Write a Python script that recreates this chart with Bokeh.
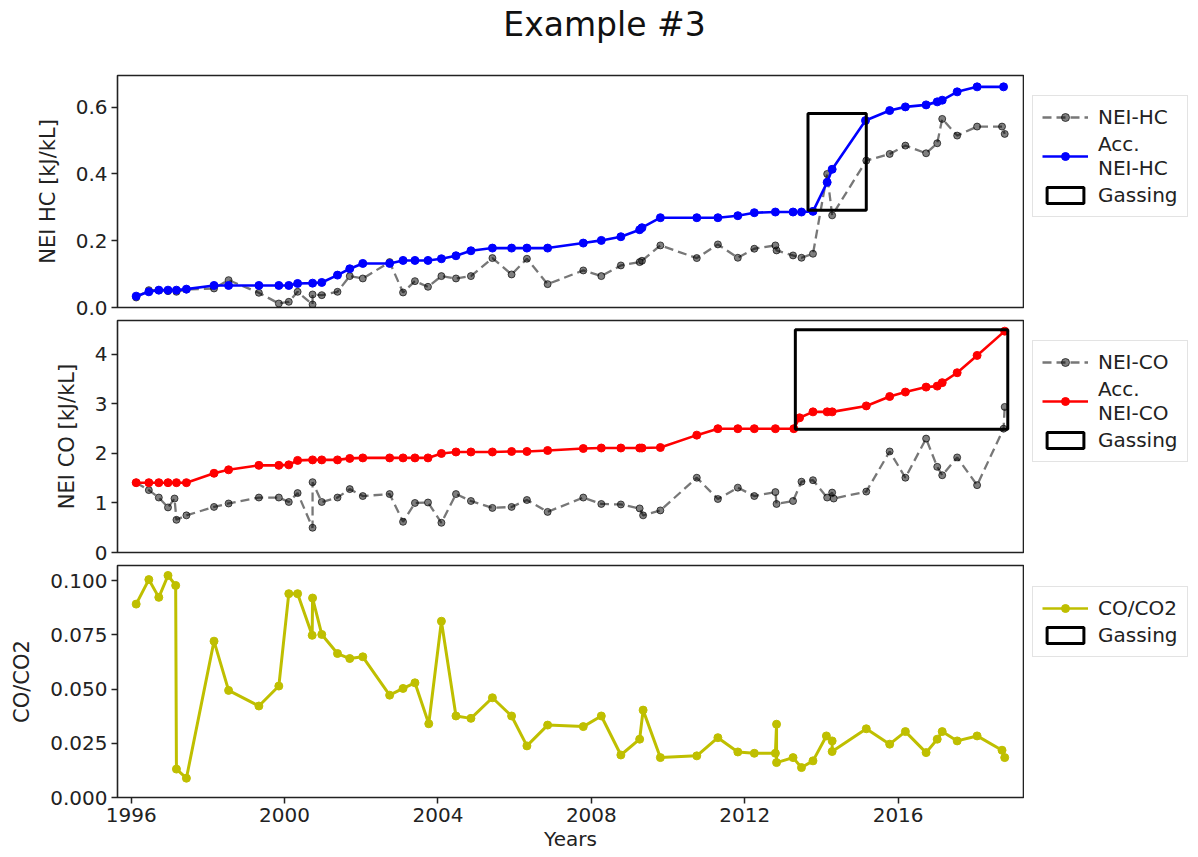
from bokeh.plotting import figure
from bokeh.models import Range1d, FixedTicker, PrintfTickFormatter, Legend, LegendItem, Label
from bokeh.layouts import column, row
from bokeh.embed import file_html
from bokeh.resources import INLINE

# ---------------- data ----------------
title_text = "Example #3"
x_label = "Years"
year_ticks = [1996, 2000, 2004, 2008, 2012, 2016]
hc_ticks = [0.0, 0.2, 0.4, 0.6]
co_ticks = [0, 1, 2, 3, 4]
ratio_ticks = [0.0, 0.025, 0.05, 0.075, 0.1]

# NEI-HC (raw, dashed gray)
hc_years = [1996.13, 1996.46, 1996.72, 1996.96, 1997.18, 1997.44, 1998.16, 1998.54, 1999.33, 1999.85,
            2000.11, 2000.34, 2000.73, 2000.73, 2000.97, 2001.38, 2001.70, 2002.04, 2002.74, 2003.09,
            2003.40, 2003.74, 2004.09, 2004.47, 2004.86, 2005.42, 2005.92, 2006.32, 2006.86, 2007.79,
            2008.26, 2008.77, 2009.26, 2009.32, 2009.80, 2010.75, 2011.30, 2011.82, 2012.25, 2012.80,
            2012.83, 2013.26, 2013.48, 2013.78, 2014.15, 2014.28, 2015.17, 2015.78, 2016.19, 2016.73,
            2017.02, 2017.15, 2017.54, 2018.06, 2018.71, 2018.78]
hc_values = [0.030, 0.052, 0.052, 0.049, 0.047, 0.054, 0.057, 0.082, 0.044, 0.012,
             0.017, 0.047, 0.009, 0.039, 0.037, 0.047, 0.094, 0.087, 0.136, 0.045,
             0.079, 0.062, 0.094, 0.087, 0.094, 0.148, 0.099, 0.146, 0.070, 0.111,
             0.094, 0.126, 0.136, 0.140, 0.186, 0.148, 0.189, 0.149, 0.176, 0.186,
             0.171, 0.156, 0.149, 0.161, 0.400, 0.276, 0.440, 0.460, 0.485, 0.462,
             0.492, 0.565, 0.515, 0.542, 0.542, 0.520]

# Acc. NEI-HC (blue)
acc_hc_years = [1996.13, 1996.46, 1996.72, 1996.96, 1997.18, 1997.44, 1998.16, 1998.54, 1999.33, 1999.85,
                2000.11, 2000.34, 2000.73, 2000.97, 2001.38, 2001.70, 2002.04, 2002.74, 2003.09, 2003.40,
                2003.74, 2004.09, 2004.47, 2004.86, 2005.42, 2005.92, 2006.32, 2006.86, 2007.79, 2008.26,
                2008.77, 2009.26, 2009.32, 2009.80, 2010.75, 2011.30, 2011.82, 2012.25, 2012.80, 2013.26,
                2013.48, 2013.78, 2014.15, 2014.28, 2015.15, 2015.78, 2016.19, 2016.73, 2017.02, 2017.15,
                2017.54, 2018.06, 2018.75]
acc_hc_values = [0.034, 0.047, 0.052, 0.052, 0.052, 0.055, 0.066, 0.066, 0.066, 0.066,
                 0.066, 0.072, 0.073, 0.075, 0.097, 0.116, 0.132, 0.132, 0.141, 0.141,
                 0.141, 0.146, 0.155, 0.170, 0.178, 0.178, 0.178, 0.178, 0.193, 0.201,
                 0.212, 0.233, 0.239, 0.269, 0.269, 0.269, 0.275, 0.284, 0.286, 0.286,
                 0.286, 0.288, 0.375, 0.414, 0.560, 0.590, 0.601, 0.607, 0.616, 0.621,
                 0.646, 0.661, 0.661]

# NEI-CO (raw, dashed gray)
co_years = [1996.13, 1996.46, 1996.72, 1996.96, 1997.13, 1997.18, 1997.44, 1998.16, 1998.54, 1999.33,
            1999.85, 2000.11, 2000.34, 2000.73, 2000.73, 2000.97, 2001.38, 2001.70, 2002.04, 2002.74,
            2003.09, 2003.40, 2003.74, 2004.09, 2004.47, 2004.86, 2005.42, 2005.92, 2006.32, 2006.86,
            2007.79, 2008.26, 2008.77, 2009.26, 2009.35, 2009.80, 2010.75, 2011.30, 2011.82, 2012.25,
            2012.80, 2012.83, 2013.26, 2013.48, 2013.78, 2014.15, 2014.28, 2014.32, 2015.17, 2015.78,
            2016.19, 2016.73, 2017.02, 2017.15, 2017.54, 2018.06, 2018.75, 2018.78]
co_values = [1.41, 1.26, 1.11, 0.91, 1.09, 0.66, 0.75, 0.92, 0.99, 1.11,
             1.11, 1.02, 1.20, 0.50, 1.42, 1.02, 1.11, 1.28, 1.14, 1.18,
             0.62, 1.00, 1.01, 0.60, 1.18, 1.04, 0.90, 0.92, 1.06, 0.82,
             1.11, 0.98, 0.97, 0.89, 0.75, 0.85, 1.51, 1.08, 1.31, 1.14,
             1.22, 0.98, 1.04, 1.43, 1.46, 1.11, 1.21, 1.09, 1.23, 2.04,
             1.51, 2.30, 1.73, 1.56, 1.92, 1.36, 2.50, 2.94]

# Acc. NEI-CO (red)
acc_co_years = [1996.13, 1996.46, 1996.72, 1996.96, 1997.18, 1997.44, 1998.16, 1998.54, 1999.33, 1999.85,
                2000.11, 2000.34, 2000.73, 2000.97, 2001.38, 2001.70, 2002.04, 2002.74, 2003.09, 2003.40,
                2003.74, 2004.09, 2004.47, 2004.86, 2005.42, 2005.92, 2006.32, 2006.86, 2007.79, 2008.26,
                2008.77, 2009.26, 2009.32, 2009.80, 2010.75, 2011.30, 2011.82, 2012.25, 2012.80, 2013.28,
                2013.43, 2013.78, 2014.15, 2014.28, 2015.17, 2015.78, 2016.19, 2016.73, 2017.02, 2017.15,
                2017.54, 2018.06, 2018.78]
acc_co_values = [1.41, 1.41, 1.41, 1.41, 1.41, 1.41, 1.60, 1.67, 1.76, 1.76,
                 1.77, 1.86, 1.87, 1.87, 1.87, 1.90, 1.91, 1.91, 1.91, 1.91,
                 1.91, 2.00, 2.03, 2.03, 2.03, 2.04, 2.04, 2.06, 2.10, 2.11,
                 2.11, 2.11, 2.11, 2.12, 2.37, 2.50, 2.50, 2.50, 2.50, 2.50,
                 2.72, 2.84, 2.84, 2.84, 2.96, 3.15, 3.24, 3.34, 3.36, 3.43,
                 3.63, 3.98, 4.47]

# CO/CO2 (yellow)
ratio_years = [1996.13, 1996.46, 1996.72, 1996.96, 1997.16, 1997.18, 1997.44, 1998.16, 1998.54, 1999.33,
               1999.85, 2000.11, 2000.34, 2000.72, 2000.73, 2000.97, 2001.38, 2001.70, 2002.04, 2002.74,
               2003.09, 2003.40, 2003.76, 2004.09, 2004.47, 2004.86, 2005.42, 2005.92, 2006.32, 2006.86,
               2007.79, 2008.26, 2008.77, 2009.26, 2009.35, 2009.80, 2010.75, 2011.30, 2011.82, 2012.25,
               2012.80, 2012.83, 2012.83, 2013.26, 2013.48, 2013.78, 2014.13, 2014.28, 2014.28, 2015.17,
               2015.78, 2016.19, 2016.73, 2017.02, 2017.15, 2017.54, 2018.06, 2018.71, 2018.78]
ratio_values = [0.0892, 0.1005, 0.0923, 0.1024, 0.0978, 0.0131, 0.0089, 0.0721, 0.0494, 0.0422,
                0.0514, 0.0940, 0.0940, 0.0748, 0.0920, 0.0752, 0.0664, 0.0641, 0.0649, 0.0472,
                0.0503, 0.0529, 0.0340, 0.0813, 0.0376, 0.0365, 0.0460, 0.0376, 0.0238, 0.0334,
                0.0327, 0.0376, 0.0196, 0.0269, 0.0403, 0.0184, 0.0192, 0.0276, 0.0210, 0.0204,
                0.0204, 0.0338, 0.0161, 0.0184, 0.0138, 0.0169, 0.0284, 0.0261, 0.0212, 0.0317,
                0.0246, 0.0304, 0.0207, 0.0269, 0.0304, 0.0261, 0.0284, 0.0218, 0.0184]

# Gassing boxes (start, end, low, high)
gas_hc = dict(left=[2013.65], right=[2015.17], bottom=[0.291], top=[0.581])
gas_co = dict(left=[2013.32], right=[2018.86], bottom=[2.49], top=[4.50])

# ---------------- styling ----------------
FONT = "DejaVu Sans"
TXT = "#222222"
NAN = float("nan")
X_START, X_END = 1995.643, 2019.27
LEFT = 117
FRAME_W = 906
MAIN_W = LEFT + FRAME_W + 1
LEG_W = 172
FRAME_H = 232
TITLE_H = 58
LEG_DX = 8
LEG_DY = 22

GRAY = dict(line_color="#777777", line_width=2.3, line_dash="9 5")
GRAY_DOT = dict(size=7, fill_color="black", fill_alpha=0.5, line_color="black", line_alpha=0.65)
BOX = dict(fill_alpha=0, line_color="black", line_width=3)


def make_fig(top, bottom, y_end, yticks, yfmt, ylabel, show_x):
    p = figure(width=MAIN_W, height=top + FRAME_H + bottom, x_range=Range1d(X_START, X_END),
               y_range=Range1d(0, y_end), output_backend="svg", toolbar_location=None,
               min_border_left=LEFT, min_border_right=1,
               min_border_top=top, min_border_bottom=bottom)
    p.grid.visible = False
    p.outline_line_color = "#222222"
    p.outline_line_width = 1.6
    p.outline_line_alpha = 1.0
    p.background_fill_color = "white"
    p.border_fill_color = "white"
    for ax in (p.yaxis[0], p.xaxis[0]):
        ax.axis_line_color = None
        ax.major_tick_in = 0
        ax.major_tick_out = 6
        ax.major_tick_line_color = "#222222"
        ax.major_tick_line_width = 1.5
        ax.minor_tick_line_color = None
        ax.major_label_text_font = FONT
        ax.major_label_text_font_size = "20px"
        ax.major_label_text_color = TXT
        ax.axis_label_text_font = FONT
        ax.axis_label_text_font_style = "normal"
        ax.axis_label_text_color = TXT
    ya = p.yaxis[0]
    ya.ticker = FixedTicker(ticks=yticks)
    ya.formatter = PrintfTickFormatter(format=yfmt)
    ya.axis_label = ylabel
    ya.axis_label_text_font_size = "21px"
    ya.axis_label_standoff = 13
    ya.major_label_standoff = 4
    xa = p.xaxis[0]
    if show_x:
        xa.ticker = FixedTicker(ticks=year_ticks)
        xa.formatter = PrintfTickFormatter(format="%d")
        xa.axis_label = x_label
        xa.axis_label_text_font_size = "20px"
        xa.axis_label_standoff = 2
        xa.major_label_standoff = 4
    else:
        xa.visible = False
    return p


def legend_fig(top, bottom, entries, leg_h):
    """Side figure holding the legend (proxy renderers carry no data points)."""
    lf = figure(width=LEG_W, height=top + FRAME_H + bottom, x_range=Range1d(0, 1), y_range=Range1d(0, 1),
                output_backend="svg", toolbar_location=None,
                min_border_left=0, min_border_top=top, min_border_right=0, min_border_bottom=bottom)
    lf.axis.visible = False
    lf.grid.visible = False
    lf.outline_line_color = None
    lf.background_fill_color = "white"
    lf.border_fill_color = "white"
    items = []
    for label, kind, color in entries:
        if kind == "raw":
            rs = [lf.line([NAN], [NAN], **GRAY), lf.scatter([NAN], [NAN], **GRAY_DOT)]
        elif kind == "acc":
            rs = [lf.line([NAN], [NAN], line_color=color, line_width=2.6),
                  lf.scatter([NAN], [NAN], size=8, fill_color=color, line_color=color)]
        else:
            rs = [lf.quad(left=[NAN], right=[NAN], bottom=[NAN], top=[NAN], **BOX)]
        items.append(LegendItem(label=label, renderers=rs))
    lg = Legend(items=items, location=(LEG_DX, FRAME_H - LEG_DY - leg_h))
    lg.label_text_font = FONT
    lg.label_text_font_size = "20px"
    lg.label_text_color = TXT
    lg.glyph_width = 46
    lg.glyph_height = 20
    lg.label_standoff = 10
    lg.padding = 9
    lg.spacing = 3
    lg.margin = 0
    lg.border_line_color = "#c8c8c8"
    lg.border_line_width = 1.5
    lg.background_fill_color = "white"
    lg.background_fill_alpha = 1.0
    lf.add_layout(lg)
    return lf


def raw_series(p, xs, ys):
    p.line(xs, ys, **GRAY)
    p.scatter(xs, ys, **GRAY_DOT)


def acc_series(p, xs, ys, color, lw=2.6, size=8):
    p.line(xs, ys, line_color=color, line_width=lw)
    p.scatter(xs, ys, size=size, fill_color=color, line_color=color)


def gas_box(p, d):
    p.quad(left=d["left"], right=d["right"], bottom=d["bottom"], top=d["top"], **BOX)


# ---- title strip ----
pt = figure(width=MAIN_W + LEG_W, height=TITLE_H, x_range=Range1d(0, 1), y_range=Range1d(0, 1),
            output_backend="svg", toolbar_location=None,
            min_border_left=LEFT, min_border_right=1, min_border_top=0, min_border_bottom=0)
pt.axis.visible = False
pt.grid.visible = False
pt.outline_line_color = None
pt.add_layout(Label(x=604 - LEFT, y=34, x_units="screen", y_units="screen", text=title_text,
                    text_align="center", text_baseline="alphabetic", text_font=FONT,
                    text_font_size="33px", text_color="#111111"))

# ---- top panel ----
T1, B1 = 75 - TITLE_H, 12
p1 = make_fig(T1, B1, 0.695, hc_ticks, "%.1f", "NEI HC [kJ/kL]", False)
raw_series(p1, hc_years, hc_values)
acc_series(p1, acc_hc_years, acc_hc_values, "#0000ff")
gas_box(p1, gas_hc)
l1 = legend_fig(T1, B1, [("NEI-HC", "raw", None), ("Acc.\nNEI-HC", "acc", "#0000ff"),
                         ("Gassing", "box", None)], 120)

# ---- middle panel ----
T2, B2 = 1, 12
p2 = make_fig(T2, B2, 4.685, co_ticks, "%d", "NEI CO [kJ/kL]", False)
raw_series(p2, co_years, co_values)
acc_series(p2, acc_co_years, acc_co_values, "#ff0000")
gas_box(p2, gas_co)
l2 = legend_fig(T2, B2, [("NEI-CO", "raw", None), ("Acc.\nNEI-CO", "acc", "#ff0000"),
                         ("Gassing", "box", None)], 120)

# ---- bottom panel ----
T3, B3 = 1, 58
p3 = make_fig(T3, B3, 0.107, ratio_ticks, "%.3f", "CO/CO2", True)
acc_series(p3, ratio_years, ratio_values, "#bfbf00", lw=3, size=8)
l3 = legend_fig(T3, B3, [("CO/CO2", "acc", "#bfbf00"), ("Gassing", "box", None)], 70)

layout = column(pt, row(p1, l1, spacing=0), row(p2, l2, spacing=0), row(p3, l3, spacing=0), spacing=0)
open("out.html", "w").write(file_html(layout, INLINE))
